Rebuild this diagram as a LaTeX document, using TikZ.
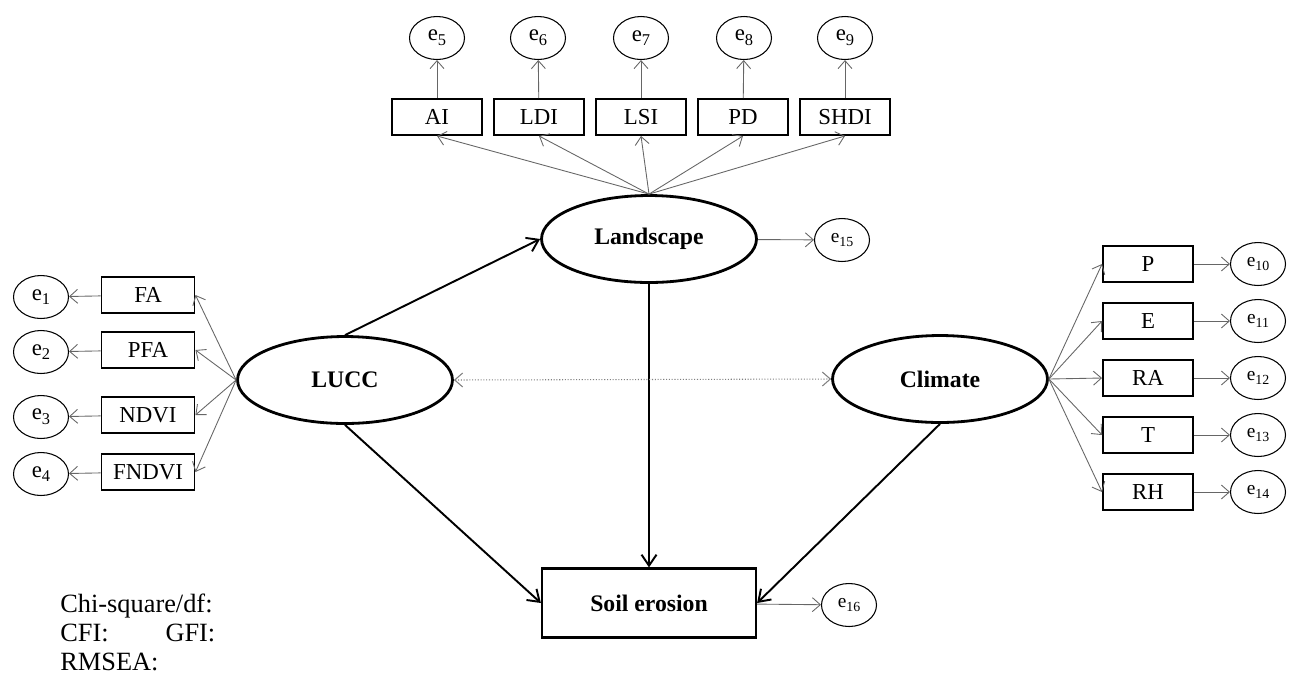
\documentclass[tikz,border=0pt]{standalone}
\usepackage{fontspec}
\setmainfont{Liberation Serif}
\usetikzlibrary{arrows.meta,shapes.geometric}
\newcommand{\errlab}[1]{e\raisebox{-0.45ex}{\scalebox{0.72}{#1}}}

\begin{document}
\begin{tikzpicture}[x=0.02cm, y=-0.02cm,
  obs/.style={draw, line width=1.1pt, minimum width=1.8cm, minimum height=0.72cm, inner sep=0pt, font=\fontsize{13}{13}\selectfont},
  lat/.style={draw, ellipse, line width=1.6pt, minimum width=4.3cm, minimum height=1.74cm, inner sep=0pt, font=\bfseries\fontsize{13.5}{13.5}\selectfont},
  err/.style={draw, ellipse, line width=0.6pt, minimum width=1.1cm, minimum height=0.86cm, inner sep=0pt, font=\fontsize{13}{13}\selectfont},
  errs/.style={err, font=\fontsize{11}{11}\selectfont},
  load/.style={-{Straight Barb[length=1.6mm, width=2.8mm]}, black!60, line width=0.5pt},
  path/.style={-{Straight Barb[length=2.2mm, width=3mm]}, line width=1.1pt},
  cov/.style={{Straight Barb[length=1.6mm, width=2.8mm]}-{Straight Barb[length=1.6mm, width=2.8mm]}, black!50, densely dotted, line width=0.6pt}]
 \useasboundingbox (0,0) rectangle (1294,677);

 % latent variables
 \node[lat] (land) at (649,239) {Landscape};
 \node[lat] (lucc) at (345,380) {LUCC};
 \node[lat] (clim) at (940,379) {Climate};
 \node[obs, line width=1.3pt, minimum width=4.28cm, minimum height=1.38cm, font=\bfseries\fontsize{13.5}{13.5}\selectfont] (soil) at (649,603) {Soil erosion};

 % landscape indicators
 \node[obs] (ai) at (437,117) {AI};
 \node[obs] (ldi) at (539,117) {LDI};
 \node[obs] (lsi) at (641,117) {LSI};
 \node[obs] (pd) at (743,117) {PD};
 \node[obs] (shdi) at (845,117) {SHDI};
 \node[err] (e5) at (437,38) {\errlab{5}};
 \node[err] (e6) at (538,38) {\errlab{6}};
 \node[err] (e7) at (641,38) {\errlab{7}};
 \node[err] (e8) at (744,38) {\errlab{8}};
 \node[err] (e9) at (845,38) {\errlab{9}};

 % LUCC indicators
 \node[obs, minimum width=1.86cm] (fa) at (148,295) {FA};
 \node[obs, minimum width=1.86cm] (pfa) at (148,350) {PFA};
 \node[obs, minimum width=1.86cm] (ndvi) at (148,415) {NDVI};
 \node[obs, minimum width=1.86cm] (fndvi) at (148,472) {FNDVI};
 \node[err] (e1) at (41,297) {\errlab{1}};
 \node[err] (e2) at (41,352) {\errlab{2}};
 \node[err] (e3) at (41,417) {\errlab{3}};
 \node[err] (e4) at (41,474) {\errlab{4}};

 % climate indicators
 \node[obs] (p) at (1148,264) {P};
 \node[obs] (ev) at (1148,321) {E};
 \node[obs] (ra) at (1148,378) {RA};
 \node[obs] (t) at (1148,435) {T};
 \node[obs] (rh) at (1148,492) {RH};
 \node[errs] (e10) at (1258,264) {\errlab{10}};
 \node[errs] (e11) at (1258,321) {\errlab{11}};
 \node[errs] (e12) at (1258,378) {\errlab{12}};
 \node[errs] (e13) at (1258,435) {\errlab{13}};
 \node[errs] (e14) at (1258,492) {\errlab{14}};

 \node[errs] (e15) at (842,240) {\errlab{15}};
 \node[errs] (e16) at (849,605) {\errlab{16}};

 % loadings
 \draw[load] (land.north) -- (ai.south);
 \draw[load] (land.north) -- (ldi.south);
 \draw[load] (land.north) -- (lsi.south);
 \draw[load] (land.north) -- (pd.south);
 \draw[load] (land.north) -- (shdi.south);
 \draw[load] (ai) -- (e5);
 \draw[load] (ldi) -- (e6);
 \draw[load] (lsi) -- (e7);
 \draw[load] (pd) -- (e8);
 \draw[load] (shdi) -- (e9);

 \draw[load] (lucc.west) -- (fa.east);
 \draw[load] (lucc.west) -- (pfa.east);
 \draw[load] (lucc.west) -- (ndvi.east);
 \draw[load] (lucc.west) -- (fndvi.east);
 \draw[load] (fa) -- (e1);
 \draw[load] (pfa) -- (e2);
 \draw[load] (ndvi) -- (e3);
 \draw[load] (fndvi) -- (e4);

 \draw[load] (clim.east) -- (p.west);
 \draw[load] (clim.east) -- (ev.west);
 \draw[load] (clim.east) -- (ra.west);
 \draw[load] (clim.east) -- (t.west);
 \draw[load] (clim.east) -- (rh.west);
 \draw[load] (p) -- (e10);
 \draw[load] (ev) -- (e11);
 \draw[load] (ra) -- (e12);
 \draw[load] (t) -- (e13);
 \draw[load] (rh) -- (e14);

 \draw[load] (land) -- (e15);
 \draw[load] (soil) -- (e16);

 % structural paths
 \draw[path] (lucc.north) -- (land.west);
 \draw[path] (lucc.south) -- (soil.west);
 \draw[path] (land.south) -- (soil.north);
 \draw[path] (clim.south) -- (soil.east);
 \draw[cov] (lucc.east) -- (clim.west);

 % fit indices
 \node[anchor=north west, inner sep=0pt, text width=3.1cm, align=left, font=\fontsize{15}{16.5}\selectfont] (fit) at (60,594) {Chi-square/df:\\ CFI:\hfill GFI:\\ RMSEA:};
\end{tikzpicture}
\end{document}
